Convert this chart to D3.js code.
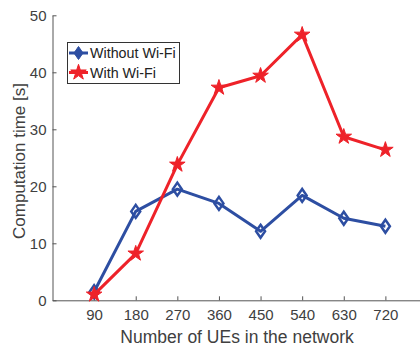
<!DOCTYPE html>
<html>
<head>
<meta charset="utf-8">
<script src="https://cdn.jsdelivr.net/npm/d3@7"></script>
<style>
  body { margin: 0; background: #fff; }
  text { font-family: "Liberation Sans", Arial, sans-serif; fill: #404040; }
</style>
</head>
<body>
<script>
(function() {

    var ues = [90, 180, 270, 360, 450, 540, 630, 720];
    var withoutWifi = [1.5, 15.6, 19.5, 17.0, 12.1, 18.4, 14.4, 13.0];
    var withWifi = [1.0, 8.2, 23.8, 37.3, 39.4, 46.6, 28.7, 26.4];
    var yTicks = [0, 10, 20, 30, 40, 50];
    var seriesNames = ["Without Wi-Fi", "With Wi-Fi"];

    var blue = "#2d4ea2", red = "#ee2229", axisCol = "#555";

    var width = 420, height = 347;

    var svg = d3.select("body")
        .append("svg")
        .attr("width", width)
        .attr("height", height);

    var x = d3.scaleLinear().domain([0, 810]).range([52.5, 427]);
    var y = d3.scaleLinear().domain([0, 50]).range([300.3, 15.3]);

    // axes
    var xAxis = svg.append("g")
        .attr("transform", "translate(0," + y(0) + ")")
        .call(d3.axisBottom(x).tickValues(ues).tickSize(-4).tickPadding(9).tickSizeOuter(0));
    var yAxis = svg.append("g")
        .attr("transform", "translate(" + x(0) + ",0)")
        .call(d3.axisLeft(y).tickValues(yTicks).tickSize(-4).tickPadding(6).tickSizeOuter(0));

    [xAxis, yAxis].forEach(function(g){
        g.select(".domain").attr("stroke", axisCol).attr("stroke-width", 1);
        g.selectAll(".tick line").attr("stroke", axisCol);
        g.selectAll(".tick text").attr("fill", "#404040").style("font-size", "15px")
            .style("font-family", "'Liberation Sans', Arial, sans-serif");
    });

    svg.append("text")
        .attr("x", 237).attr("y", 343)
        .attr("text-anchor", "middle")
        .style("font-size", "17.5px")
        .text("Number of UEs in the network");

    svg.append("text")
        .attr("transform", "translate(25,161) rotate(-90)")
        .attr("text-anchor", "middle")
        .style("font-size", "17px")
        .text("Computation time [s]");

    var line = d3.line()
        .x(function(d, i){ return x(ues[i]); })
        .y(function(d){ return y(d); });

    var diamond = "M0,-6.5L4.5,0L0,6.5L-4.5,0Z";
    var star = d3.symbol().type(d3.symbolStar).size(75)();

    function drawSeries(vals, color, marker, filled) {
        svg.append("path")
            .datum(vals)
            .attr("fill", "none")
            .attr("stroke", color)
            .attr("stroke-width", 3)
            .attr("stroke-linejoin", "round")
            .attr("d", line);
        svg.selectAll(null)
            .data(vals)
            .enter()
            .append("path")
            .attr("d", marker)
            .attr("transform", function(d, i){ return "translate(" + x(ues[i]) + "," + y(d) + ")"; })
            .attr("fill", filled ? color : "none")
            .attr("stroke", color)
            .attr("stroke-width", filled ? 1 : 2.5);
    }

    drawSeries(withoutWifi, blue, diamond, false);
    drawSeries(withWifi, red, star, true);

    // legend
    var legend = svg.append("g");
    legend.append("rect")
        .attr("x", 67.5).attr("y", 42.5)
        .attr("width", 112).attr("height", 41)
        .attr("fill", "#fff")
        .attr("stroke", "#333").attr("stroke-width", 1);

    var rows = [
        {name: seriesNames[0], color: blue, marker: diamond, filled: true},
        {name: seriesNames[1], color: red, marker: star, filled: true}
    ];
    rows.forEach(function(r, i){
        var cy = 53 + i * 19.5;
        legend.append("line")
            .attr("x1", 69).attr("x2", 88)
            .attr("y1", cy).attr("y2", cy)
            .attr("stroke", r.color).attr("stroke-width", 3);
        legend.append("path")
            .attr("d", r.marker)
            .attr("transform", "translate(78.5," + cy + ")")
            .attr("fill", r.color)
            .attr("stroke", r.color).attr("stroke-width", 1);
        legend.append("text")
            .attr("x", 90).attr("y", cy + 5)
            .style("font-size", "14.3px")
            .style("fill", "#222")
            .text(r.name);
    });

})();
</script>
</body>
</html>
